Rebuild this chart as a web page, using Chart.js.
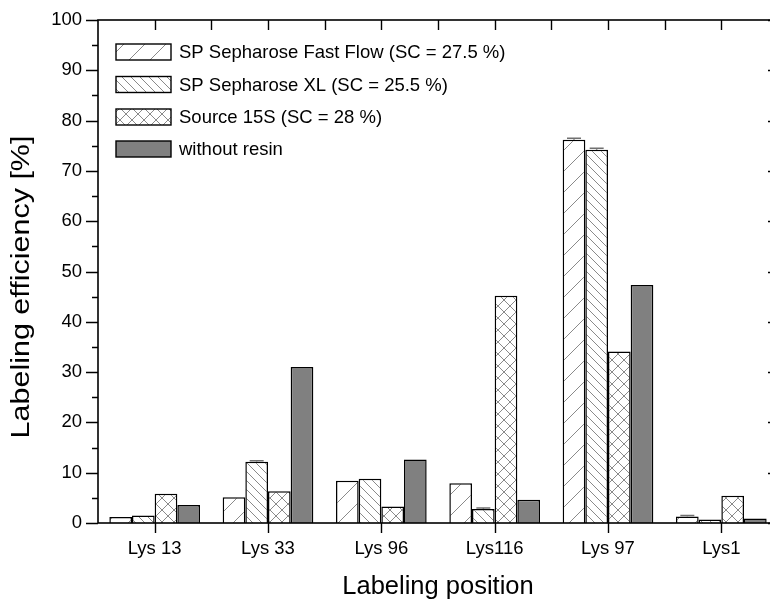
<!DOCTYPE html>
<html>
<head>
<meta charset="utf-8">
<script src="https://cdn.jsdelivr.net/npm/chart.js@4.4.1/dist/chart.umd.min.js"></script>
<style>
  html, body { margin: 0; padding: 0; background: #fff; overflow: hidden; }
  #wrap { width: 782px; height: 599px; }
</style>
</head>
<body>
<div id="wrap"><canvas id="c" width="782" height="599"></canvas></div>
<script>
// ---- data ----
const categories = ['Lys 13', 'Lys 33', 'Lys 96', 'Lys116', 'Lys 97', 'Lys1'];
const seriesLabels = [
  'SP Sepharose Fast Flow (SC = 27.5 %)',
  'SP Sepharose XL (SC = 25.5 %)',
  'Source 15S (SC = 28 %)',
  'without resin'
];
const spFastFlow   = [1.2, 5.1, 8.4, 7.9, 76.2, 1.3];
const spXL         = [1.5, 12.2, 8.8, 2.8, 74.2, 0.7];
const source15S    = [5.8, 6.3, 3.3, 45.2, 34.1, 5.4];
const withoutResin = [3.6, 31.0, 12.6, 4.6, 47.3, 0.9];
const errFastFlow  = [0, 0, 0, 0, 0.3, 0.2];
const errXL        = [0, 0.2, 0, 0.2, 0.3, 0];
const yTicks = [0, 10, 20, 30, 40, 50, 60, 70, 80, 90, 100];
const xTitle = 'Labeling position';
const yTitle = 'Labeling efficiency [%]';

const FONT = "'Liberation Sans', Arial, sans-serif";

// ---- patterns ----
function makePattern(size, kind) {
  const c = document.createElement('canvas');
  c.width = size; c.height = size;
  const g = c.getContext('2d');
  g.fillStyle = '#fff';
  g.fillRect(0, 0, size, size);
  g.strokeStyle = '#8a8a8a';
  g.lineWidth = 1;
  g.beginPath();
  const s = size;
  if (kind === 'fwd' || kind === 'cross') {
    g.moveTo(0, s); g.lineTo(s, 0);
    g.moveTo(-s / 4, s / 4); g.lineTo(s / 4, -s / 4);
    g.moveTo(3 * s / 4, 5 * s / 4); g.lineTo(5 * s / 4, 3 * s / 4);
  }
  if (kind === 'back' || kind === 'cross') {
    g.moveTo(0, 0); g.lineTo(s, s);
    g.moveTo(-s / 4, 3 * s / 4); g.lineTo(s / 4, 5 * s / 4);
    g.moveTo(3 * s / 4, -s / 4); g.lineTo(5 * s / 4, s / 4);
  }
  g.stroke();
  return g.createPattern(c, 'repeat');
}
const fills = [
  makePattern(21, 'fwd'),
  makePattern(9, 'back'),
  makePattern(12, 'cross'),
  '#808080'
];
const seriesData = [spFastFlow, spXL, source15S, withoutResin];
const seriesErr = [errFastFlow, errXL, null, null];

// ---- frame, ticks, legend, error bars plugin ----
const framePlugin = {
  id: 'frame',
  afterDatasetsDraw(chart) {
    const ctx = chart.ctx;
    const ys = chart.scales.y;
    ctx.save();
    ctx.strokeStyle = '#707070';
    ctx.lineWidth = 1.5;
    seriesErr.forEach((errs, di) => {
      if (!errs) return;
      const meta = chart.getDatasetMeta(di);
      meta.data.forEach((bar, i) => {
        const e = errs[i];
        if (!e) return;
        const v = seriesData[di][i];
        const yTop = ys.getPixelForValue(v + e);
        const yBase = ys.getPixelForValue(v);
        ctx.beginPath();
        ctx.moveTo(bar.x, yBase); ctx.lineTo(bar.x, yTop);
        ctx.moveTo(bar.x - 7, yTop); ctx.lineTo(bar.x + 7, yTop);
        ctx.stroke();
      });
    });
    ctx.restore();
  },
  afterDraw(chart) {
    const ctx = chart.ctx;
    const a = chart.chartArea;
    const xs = chart.scales.x, ys = chart.scales.y;
    ctx.save();
    ctx.strokeStyle = '#000';
    ctx.lineWidth = 1.6;
    ctx.strokeRect(a.left, a.top, a.right - a.left, a.bottom - a.top);
    ctx.lineWidth = 1.4;
    ctx.beginPath();
    for (let v = 0; v <= 100; v += 5) {
      const y = Math.round(ys.getPixelForValue(v)) + 0.5;
      const len = (v % 10 === 0) ? 12 : 6;
      ctx.moveTo(a.left - len, y); ctx.lineTo(a.left, y);
    }
    yTicks.forEach(v => {
      const y = Math.round(ys.getPixelForValue(v)) + 0.5;
      ctx.moveTo(a.right - 10, y); ctx.lineTo(a.right, y);
    });
    categories.forEach((c, i) => {
      const x = Math.round(xs.getPixelForValue(i)) + 0.5;
      ctx.moveTo(x, a.bottom); ctx.lineTo(x, a.bottom + 10);
    });
    for (let i = 0; i < categories.length; i++) {
      [i, i + 0.5].forEach(p => {
        const x = Math.round(xs.getPixelForValue(p)) + 0.5;
        ctx.moveTo(x, a.top); ctx.lineTo(x, a.top + 10);
      });
    }
    ctx.stroke();

    // y axis title (stretched along its length like the original)
    ctx.save();
    ctx.translate(22, 287);
    ctx.rotate(-Math.PI / 2);
    ctx.scale(1.22, 1);
    ctx.font = '25px ' + FONT;
    ctx.fillStyle = '#000';
    ctx.textAlign = 'center';
    ctx.textBaseline = 'middle';
    ctx.fillText(yTitle, 0, 0);
    ctx.restore();

    // legend
    const boxX = 116, boxW = 55, boxH = 16;
    const rowY = [52, 84.5, 117, 149];
    ctx.font = '18.5px ' + FONT;
    ctx.textBaseline = 'middle';
    ctx.textAlign = 'left';
    seriesLabels.forEach((lab, i) => {
      const y = rowY[i];
      ctx.fillStyle = fills[i];
      ctx.fillRect(boxX, y - boxH / 2, boxW, boxH);
      ctx.lineWidth = 1.4;
      ctx.strokeStyle = '#000';
      ctx.strokeRect(boxX, y - boxH / 2, boxW, boxH);
      ctx.fillStyle = '#000';
      ctx.fillText(lab, 179, y + 1);
    });
    ctx.restore();
  }
};

Chart.defaults.color = '#000';
Chart.defaults.font.family = FONT;

new Chart(document.getElementById('c'), {
  type: 'bar',
  data: {
    labels: categories,
    datasets: seriesData.map((d, i) => ({
      label: seriesLabels[i],
      data: d,
      backgroundColor: fills[i],
      borderColor: '#000',
      borderWidth: 1.5,
      categoryPercentage: 0.8,
      barPercentage: 1.0
    }))
  },
  options: {
    responsive: false,
    animation: false,
    events: [],
    layout: { padding: { top: 20, right: 4, left: 0, bottom: 0 } },
    plugins: {
      legend: { display: false },
      tooltip: { enabled: false }
    },
    scales: {
      x: {
        type: 'category',
        grid: { display: false, drawTicks: false },
        border: { display: false },
        ticks: { font: { size: 18.5 }, padding: 15, maxRotation: 0, autoSkip: false },
        title: {
          display: true,
          text: xTitle,
          font: { size: 25.5, lineHeight: 1 },
          padding: { top: 0, bottom: -1 }
        },
        afterFit(scale) {
          scale.height = 76;
          scale.paddingLeft = 0; scale.paddingRight = 0;
        }
      },
      y: {
        min: 0, max: 100,
        afterBuildTicks(scale) { scale.ticks = yTicks.map(v => ({ value: v })); },
        grid: { display: false, drawTicks: false },
        border: { display: false },
        ticks: { font: { size: 18.5 }, padding: 16, autoSkip: false },
        afterFit(scale) {
          scale.width = 98;
          scale.paddingTop = 0; scale.paddingBottom = 0;
        }
      }
    }
  },
  plugins: [framePlugin]
});
</script>
</body>
</html>
